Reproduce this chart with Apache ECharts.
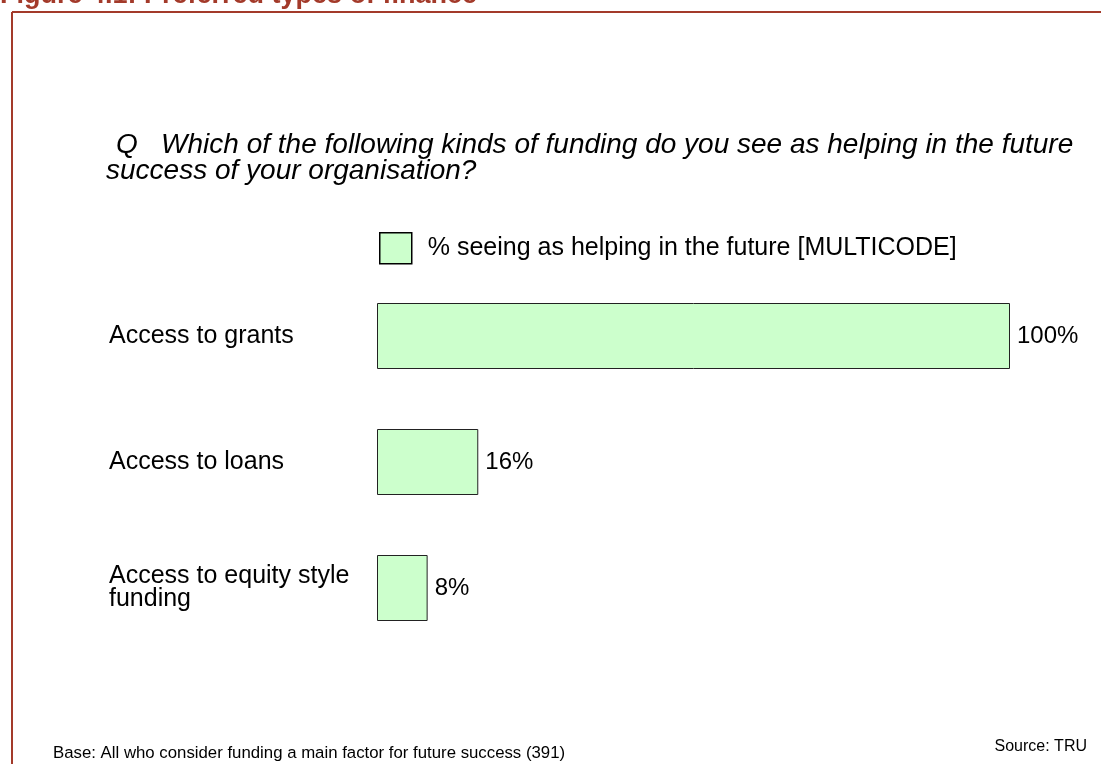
<!DOCTYPE html>
<html>
<head>
<meta charset="utf-8">
<style>
  html, body { margin: 0; padding: 0; background: #fff; }
  #chart { width: 1101px; height: 764px; }
</style>
<script src="https://cdn.jsdelivr.net/npm/echarts@6/dist/echarts.min.js"></script>
</head>
<body>
<div id="chart"></div>
<script>
// Funding types and the share of respondents who see each as helping
const categories = ['Access to grants', 'Access to loans', 'Access to equity style\nfunding'];
const seriesName = '% seeing as helping in the future [MULTICODE]';
const values = [100, 16, 8];

const figureTitle = 'Figure 4.1: Preferred types of finance';
const questionLine1 = 'Q   Which of the following kinds of funding do you see as helping in the future';
const questionLine2 = 'success of your organisation?';
const baseNote = 'Base: All who consider funding a main factor for future success (391)';
const sourceNote = 'Source: TRU';

const font = '"Liberation Sans", Arial, sans-serif';
const frameColor = '#a33a2a';

const chart = echarts.init(document.getElementById('chart'));

chart.setOption({
  backgroundColor: '#ffffff',
  animation: false,
  textStyle: { fontFamily: font },
  grid: { left: 377, right: 91, top: 273, bottom: 113, containLabel: false },
  legend: {
    data: [seriesName],
    left: 374,
    top: 227,
    itemWidth: 32,
    itemHeight: 31,
    itemGap: 10,
    icon: 'rect',
    textStyle: { fontFamily: font, fontSize: 25, color: '#000', padding: [0, 0, 0, 11] },
    itemStyle: { borderColor: '#000', borderWidth: 1.5 }
  },
  xAxis: {
    type: 'value',
    min: 0,
    max: 100,
    show: false
  },
  yAxis: {
    type: 'category',
    data: categories,
    inverse: true,
    axisLine: { show: false },
    axisTick: { show: false },
    splitLine: { show: false },
    axisLabel: {
      align: 'left',
      margin: 268,
      fontFamily: font,
      fontSize: 25,
      lineHeight: 23,
      padding: [0, 0, 8, 0],
      color: '#000'
    }
  },
  series: [{
    name: seriesName,
    type: 'bar',
    data: values,
    barWidth: 66,
    itemStyle: { color: '#ccffcc', borderColor: '#222', borderWidth: 1 },
    label: {
      show: true,
      position: 'right',
      distance: 7,
      formatter: p => p.value + '%',
      fontFamily: font,
      fontSize: 24,
      color: '#000'
    }
  }],
  graphic: [
    // frame around the figure
    { type: 'line', shape: { x1: 12, y1: 12, x2: 1101, y2: 12 }, style: { stroke: frameColor, lineWidth: 2 } },
    { type: 'line', shape: { x1: 12, y1: 12, x2: 12, y2: 764 }, style: { stroke: frameColor, lineWidth: 2 } },
    { type: 'text', left: 0, top: -18, style: { text: figureTitle, fill: frameColor, font: 'bold 27px ' + font } },
    // survey question
    { type: 'text', left: 116, top: 131, style: { text: questionLine1, fill: '#000', font: 'italic 28px ' + font } },
    { type: 'text', left: 106, top: 157, style: { text: questionLine2, fill: '#000', font: 'italic 28px ' + font } },
    // footnotes
    { type: 'text', left: 53, top: 745, style: { text: baseNote, fill: '#000', font: '16.8px ' + font } },
    { type: 'text', right: 14, top: 739, style: { text: sourceNote, fill: '#000', font: '16px ' + font } }
  ]
});
</script>
</body>
</html>
